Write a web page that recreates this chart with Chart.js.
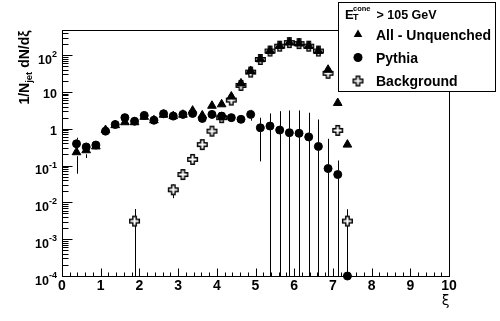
<!DOCTYPE html>
<html>
<head>
<meta charset="utf-8">
<script src="https://cdn.jsdelivr.net/npm/chart.js@4.4.1/dist/chart.umd.min.js"></script>
<style>
  body { margin: 0; background: #fff; }
  canvas { display: block; }
</style>
</head>
<body>
<canvas id="xiChart" width="500" height="321"></canvas>
<script>
// bin centres in xi (bins are 0.25 wide)
const xiBins = [0.375, 0.625, 0.875, 1.125, 1.375, 1.625, 1.875, 2.125, 2.375, 2.625,
                2.875, 3.125, 3.375, 3.625, 3.875, 4.125, 4.375, 4.625, 4.875, 5.125,
                5.375, 5.625, 5.875, 6.125, 6.375, 6.625, 6.875, 7.125, 7.375];

// All - Unquenched (triangles)
const allVals = [0.23, 0.26, 0.33, 0.92, 1.25, 1.5, 1.5, 2.1, 1.7, 2.4,
                 2.2, 2.4, 3.1, 2.3, 4.2, 4.6, 7.5, 17, 37, 77,
                 130, 176, 219, 206, 176, 129, 40, 5.0, 0.37];
const allErr  = [0.17, 0.1, 0.05, 0.05, 0.05, 0.05, 0.05, 0.05, 0.05, 0.05,
                 0.05, 0.05, 0.05, 0.05, 0.1, 0.1, 0.2, 0.5, 1, 1.5,
                 2, 2.5, 3, 3, 2.5, 2, 1, 0.3, 0.05];

// Pythia (circles); last bin is empty, sits on the axis floor
const pythiaVals = [0.39, 0.32, 0.36, 0.86, 1.3, 2.0, 1.6, 2.3, 1.7, 2.55,
                    2.2, 2.45, 2.6, 1.9, 2.45, 2.2, 2.0, 1.8, 2.45, 1.06,
                    1.18, 0.92, 0.78, 0.75, 0.6, 0.33, 0.083, 0.057, 1e-4];
const pythiaErr  = [0.18, 0.08, 0.05, 0.06, 0.08, 0.1, 0.1, 0.1, 0.1, 0.12,
                    0.12, 0.12, 0.15, 0.12, 0.15, 0.15, 0.15, 0.15, 0.8, 0.93,
                    1.42, 2.08, 2.36, 2.39, 2.12, 1.45, 0.45, 0.08, 0];

// Background (open crosses)
const bgVals = [null, null, null, null, null, null, 0.0031, null, null, null,
                0.022, 0.057, 0.147, 0.37, 0.86, 2.0, 6.0, 15, 34.5, 76,
                129, 175, 218, 205, 175, 129, 32, 0.9, 0.0031];
const bgErr  = [0, 0, 0, 0, 0, 0, 0.0035, 0, 0, 0,
                0.009, 0.01, 0.02, 0.03, 0.06, 0.1, 0.2, 0.5, 1, 1.5,
                2, 2.5, 3, 3, 2.5, 2, 1, 0.1, 0.0034];

// axis ticks
const xTickLabels = ['0', '1', '2', '3', '4', '5', '6', '7', '8', '9', '10'];
const yTickValues = [1e-4, 1e-3, 1e-2, 1e-1, 1, 10, 100];
const yTickLabels = [['10', '-4'], ['10', '-3'], ['10', '-2'], ['10', '-1'], ['1', ''], ['10', ''], ['10', '2']];

const FONT = '"Liberation Sans", Arial, Helvetica, sans-serif';

// hollow cross marker (ROOT style 28)
function makeCross() {
    const c = document.createElement('canvas');
    c.width = 13; c.height = 13;
    const g = c.getContext('2d');
    const a = 1.7, L = 4.8, o = 6.5;
    const pts = [[-a,-L],[a,-L],[a,-a],[L,-a],[L,a],[a,a],[a,L],[-a,L],[-a,a],[-L,a],[-L,-a],[-a,-a]];
    g.beginPath();
    pts.forEach(([x, y], i) => i ? g.lineTo(o + x, o + y) : g.moveTo(o + x, o + y));
    g.closePath();
    g.strokeStyle = '#000';
    g.lineWidth = 1.4;
    g.stroke();
    return c;
}
const crossImg = makeCross();

function toPoints(vals) {
    return xiBins.map((x, i) => ({ x: x, y: vals[i] })).filter(p => p.y != null);
}

function drawErrors(chart, vals, errs, gap) {
    const ctx = chart.ctx, xs = chart.scales.x, ys = chart.scales.y, a = chart.chartArea;
    ctx.save();
    ctx.strokeStyle = '#000';
    ctx.lineWidth = 1;
    vals.forEach((v, i) => {
        const e = errs[i];
        if (v == null || !e) return;
        const px = Math.round(xs.getPixelForValue(xiBins[i])) + 0.5;
        const py = ys.getPixelForValue(v);
        const hi = Math.max(a.top, ys.getPixelForValue(v + e));
        const lo = v - e > ys.min ? ys.getPixelForValue(v - e) : a.bottom;
        ctx.beginPath();
        if (hi < py - gap) { ctx.moveTo(px, py - gap); ctx.lineTo(px, hi); }
        if (lo > py + gap) { ctx.moveTo(px, py + gap); ctx.lineTo(px, lo); }
        ctx.stroke();
    });
    ctx.restore();
}

// text with optional super/subscript pieces, returns width
function richText(ctx, parts, x, y, draw) {
    let w = 0;
    parts.forEach(p => {
        ctx.font = p.font;
        if (draw) ctx.fillText(p.t, x + w, y + (p.dy || 0));
        w += ctx.measureText(p.t).width;
    });
    return w;
}

const rootStyle = {
    id: 'rootStyle',
    beforeDatasetsDraw(chart) {
        drawErrors(chart, allVals, allErr, 4);
        drawErrors(chart, pythiaVals, pythiaErr, 4);
        drawErrors(chart, bgVals, bgErr, 5);
    },
    afterDraw(chart) {
        const ctx = chart.ctx, a = chart.chartArea, xs = chart.scales.x, ys = chart.scales.y;
        const L = Math.round(a.left) + 0.5, R = Math.round(a.right) + 0.5;
        const T = Math.round(a.top) + 0.5, B = Math.round(a.bottom) + 0.5;
        ctx.save();
        ctx.strokeStyle = '#000';
        ctx.fillStyle = '#000';
        ctx.lineWidth = 1;
        ctx.strokeRect(L, T, R - L, B - T);

        // x ticks: majors every 1, minors every 0.2
        ctx.beginPath();
        for (let i = 0; i <= 50; i++) {
            const px = Math.round(xs.getPixelForValue(i / 5)) + 0.5;
            const len = i % 5 === 0 ? 8 : 4;
            ctx.moveTo(px, B);
            ctx.lineTo(px, B - len);
        }
        // y ticks: decades plus 2..9
        for (let k = -4; k <= 2; k++) {
            for (let m = 1; m <= 9; m++) {
                const v = m * Math.pow(10, k);
                if (v > ys.max) break;
                const py = Math.round(ys.getPixelForValue(v)) + 0.5;
                ctx.moveTo(L, py);
                ctx.lineTo(L + (m === 1 ? 10 : 6), py);
            }
        }
        ctx.stroke();

        // x tick labels
        ctx.font = 'bold 14px ' + FONT;
        ctx.textAlign = 'center';
        ctx.textBaseline = 'alphabetic';
        xTickLabels.forEach((t, i) => {
            ctx.fillText(t, xs.getPixelForValue(i), B + 13.5);
        });

        // y tick labels with exponents
        ctx.textAlign = 'left';
        yTickValues.forEach((v, i) => {
            const [base, sup] = yTickLabels[i];
            const py = ys.getPixelForValue(v);
            const parts = [{ t: base, font: 'bold 12.5px ' + FONT }];
            if (sup) parts.push({ t: sup, font: 'bold 9px ' + FONT, dy: -6.5 });
            const w = richText(ctx, parts, 0, 0, false);
            richText(ctx, parts, 57 - w, py + (sup ? 8.5 : 6), true);
        });

        // axis titles
        ctx.font = '14px "DejaVu Sans", ' + FONT;
        ctx.textAlign = 'right';
        ctx.fillText('ξ', R, 305);

        ctx.save();
        ctx.translate(28.5, T);
        ctx.rotate(-Math.PI / 2);
        ctx.textAlign = 'left';
        const title = [
            { t: '1/N', font: 'bold 14px ' + FONT },
            { t: 'jet', font: 'bold 9.5px ' + FONT, dy: 3.5 },
            { t: ' dN/d\u03BE', font: 'bold 14px ' + FONT }
        ];
        const tw = richText(ctx, title, 0, 0, false);
        richText(ctx, title, -tw, 0, true);
        ctx.restore();

        // legend box
        ctx.fillStyle = '#fff';
        ctx.fillRect(338.5, 2.5, 157, 89);
        ctx.strokeRect(338.5, 2.5, 157, 89);
        ctx.fillStyle = '#000';
        ctx.textAlign = 'left';
        ctx.font = 'bold 13px ' + FONT;
        ctx.fillText('E', 345, 18.5);
        ctx.font = 'bold 7.5px ' + FONT;
        ctx.fillText('cone', 353, 11);
        ctx.font = 'bold 9px ' + FONT;
        ctx.fillText('T', 353, 20);
        ctx.font = 'bold 12.5px ' + FONT;
        ctx.fillText('> 105 GeV', 376.5, 18.5);

        const rows = chart.data.datasets.slice().reverse();
        const rowY = [39.5, 62.5, 85.5];
        rows.forEach((ds, i) => {
            const cy = rowY[i] - 5;
            const mx = 358;
            ctx.beginPath();
            if (ds.pointStyle === 'triangle') {
                const r = 5;
                ctx.moveTo(mx, cy - r);
                ctx.lineTo(mx + r * 0.866, cy + r / 2);
                ctx.lineTo(mx - r * 0.866, cy + r / 2);
                ctx.closePath();
                ctx.fill();
            } else if (ds.pointStyle === 'circle') {
                ctx.arc(mx, cy, 4.5, 0, Math.PI * 2);
                ctx.fill();
            } else {
                ctx.drawImage(crossImg, mx - 6.5, Math.round(cy) - 6.5);
            }
            ctx.font = 'bold 14px ' + FONT;
            ctx.fillText(ds.label, 376, rowY[i]);
        });
        ctx.restore();
    }
};

new Chart(document.getElementById('xiChart'), {
    type: 'scatter',
    data: {
        datasets: [
            {
                label: 'Background',
                data: toPoints(bgVals),
                pointStyle: crossImg,
                pointRadius: 6,
                clip: false
            },
            {
                label: 'Pythia',
                data: toPoints(pythiaVals),
                pointStyle: 'circle',
                pointRadius: 4,
                borderWidth: 1,
                borderColor: '#000',
                backgroundColor: '#000',
                clip: false
            },
            {
                label: 'All - Unquenched',
                data: toPoints(allVals),
                pointStyle: 'triangle',
                pointRadius: 5,
                borderWidth: 1,
                borderColor: '#000',
                backgroundColor: '#000',
                clip: false
            }
        ]
    },
    options: {
        responsive: false,
        animation: false,
        devicePixelRatio: 1,
        events: [],
        layout: { padding: { left: 62, right: 51, top: 30, bottom: 45 } },
        plugins: {
            legend: { display: false },
            tooltip: { enabled: false }
        },
        scales: {
            x: { type: 'linear', min: 0, max: 10, display: false },
            y: { type: 'logarithmic', min: 1e-4, max: 480, display: false }
        }
    },
    plugins: [rootStyle]
});
</script>
</body>
</html>
